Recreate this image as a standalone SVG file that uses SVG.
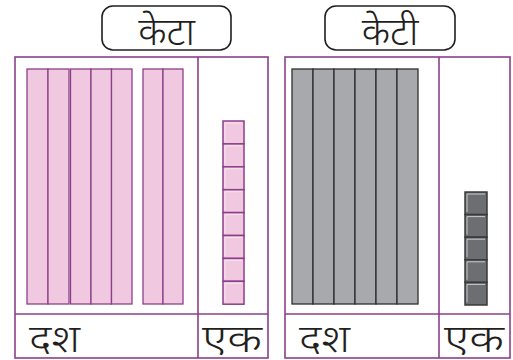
<svg xmlns="http://www.w3.org/2000/svg" width="513" height="360" viewBox="0 0 513 360">
<style>
.frame{fill:none;stroke:#8d3f8a;stroke-width:1.6}
.prod{fill:#f0c8e0;stroke:#8d3f8a;stroke-width:1.3}
.grod{fill:#a7a9ac;stroke:#2e2e2e;stroke-width:1.3}
.pcube{fill:#f0c8e0;stroke:#8d3f8a;stroke-width:1.5}
.gcube{fill:#6d6e71;stroke:#3a3a3a;stroke-width:1.5}
.hlp{fill:none;stroke:#f8e4ef;stroke-width:1}
.hlg{fill:none;stroke:#c9c9cb;stroke-width:1}
.tbox{fill:#fff;stroke:#231f20;stroke-width:1.6}
.t{font-family:"Noto Sans Devanagari","Noto Sans","Lohit Devanagari","Mangal",sans-serif;fill:#231f20;font-weight:300}
</style>
<defs>
<g id="pc"><rect class="pcube" x="0" y="0" width="21" height="22.9"/><path class="hlp" d="M2,20.5V2H19"/></g>
<g id="gc"><rect class="gcube" x="0" y="0" width="22" height="22.6"/><path class="hlg" d="M2,20V2H20"/></g>
</defs>
<g id="title-keta">
<rect class="tbox" x="102" y="6" width="129" height="44" rx="11"/>
<text class="t" x="166.5" y="45" font-size="39" text-anchor="middle">केटा</text>
</g>
<g id="title-keti">
<rect class="tbox" x="325" y="6" width="130" height="44" rx="11"/>
<text class="t" x="390" y="45" font-size="39" text-anchor="middle">केटी</text>
</g>
<g id="panel-left">
<rect class="frame" x="15" y="57" width="253" height="301"/>
<line class="frame" x1="198" y1="57" x2="198" y2="358"/>
<line class="frame" x1="15" y1="314" x2="268" y2="314"/>
<g id="left-rods">
<rect class="prod" x="27" y="69" width="21" height="235"/>
<rect class="prod" x="48" y="69" width="21" height="235"/>
<rect class="prod" x="70.5" y="69" width="20.5" height="235"/>
<rect class="prod" x="91" y="69" width="20.5" height="235"/>
<rect class="prod" x="111.5" y="69" width="20.5" height="235"/>
<rect class="prod" x="143" y="69" width="20" height="235"/>
<rect class="prod" x="163" y="69" width="20" height="235"/>
</g>
<g id="left-cubes">
<use href="#pc" x="223" y="121"/>
<use href="#pc" x="223" y="143.9"/>
<use href="#pc" x="223" y="166.8"/>
<use href="#pc" x="223" y="189.7"/>
<use href="#pc" x="223" y="212.6"/>
<use href="#pc" x="223" y="235.5"/>
<use href="#pc" x="223" y="258.4"/>
<use href="#pc" x="223" y="281.3"/>
</g>
<text class="t" x="29" y="352" font-size="38" textLength="51" lengthAdjust="spacingAndGlyphs">दश</text>
<text class="t" x="202" y="352" font-size="38" textLength="60" lengthAdjust="spacingAndGlyphs">एक</text>
</g>
<g id="panel-right">
<rect class="frame" x="285" y="57" width="225" height="301"/>
<line class="frame" x1="439" y1="57" x2="439" y2="358"/>
<line class="frame" x1="285" y1="314" x2="510" y2="314"/>
<g id="right-rods">
<rect class="grod" x="292" y="69" width="21" height="235"/>
<rect class="grod" x="313" y="69" width="21" height="235"/>
<rect class="grod" x="334" y="69" width="21" height="235"/>
<rect class="grod" x="355" y="69" width="21" height="235"/>
<rect class="grod" x="376" y="69" width="21" height="235"/>
<rect class="grod" x="397" y="69" width="21" height="235"/>
</g>
<g id="right-cubes">
<use href="#gc" x="465" y="192"/>
<use href="#gc" x="465" y="214.6"/>
<use href="#gc" x="465" y="237.2"/>
<use href="#gc" x="465" y="259.8"/>
<use href="#gc" x="465" y="282.4"/>
</g>
<text class="t" x="299" y="352" font-size="38" textLength="51" lengthAdjust="spacingAndGlyphs">दश</text>
<text class="t" x="444" y="352" font-size="38" textLength="60" lengthAdjust="spacingAndGlyphs">एक</text>
</g>
</svg>
